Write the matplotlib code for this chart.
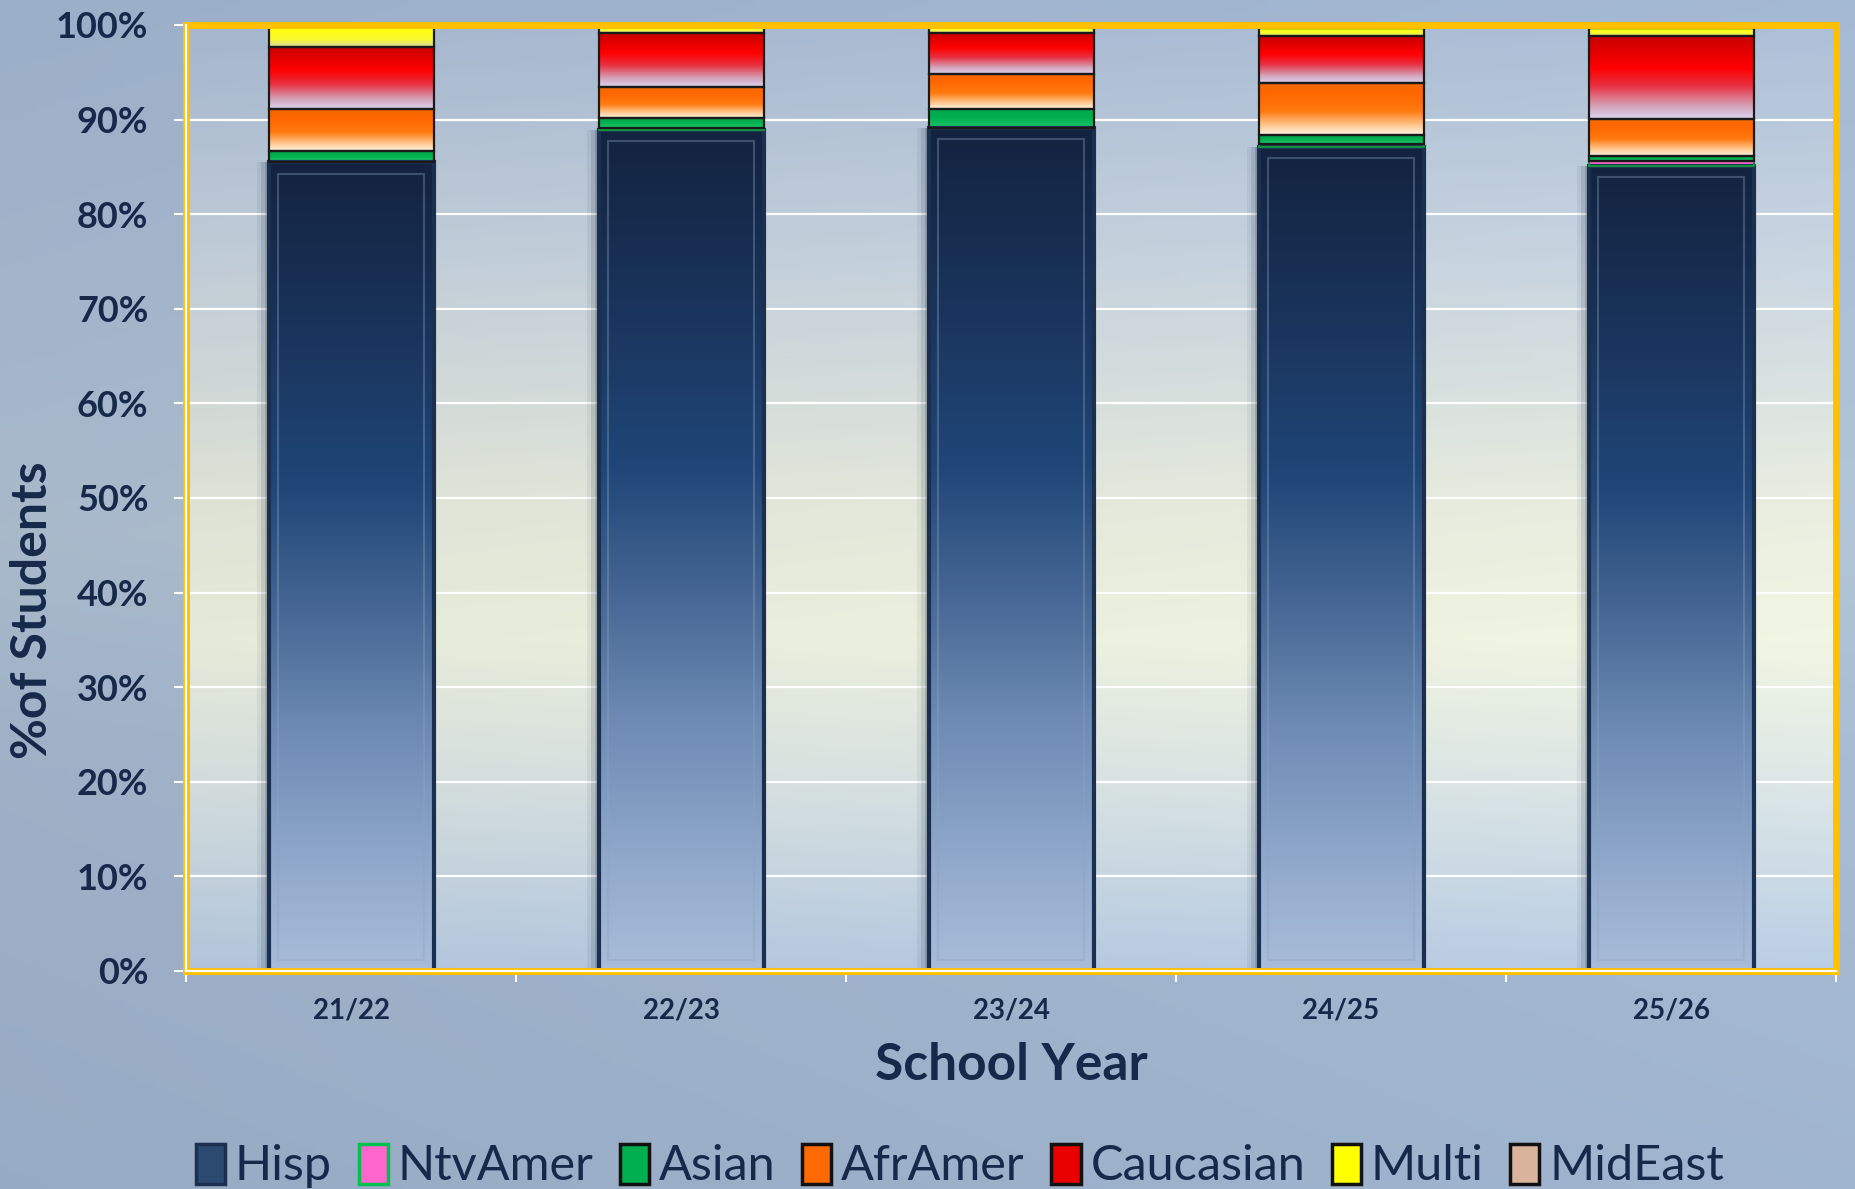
import numpy as np
import matplotlib
matplotlib.use("Agg")
import matplotlib.pyplot as plt
from matplotlib.patches import Patch, Rectangle
from matplotlib.colors import to_rgb

# ---------------- data ----------------
years = ['21/22', '22/23', '23/24', '24/25', '25/26']
hisp = [85.5, 88.9, 89.1, 87.1, 85.1]
ntvamer = [0.0, 0.2, 0.0, 0.3, 0.5]
asian = [1.2, 1.1, 2.05, 1.0, 0.5]
aframer = [4.4, 3.2, 3.65, 5.5, 4.0]
caucasian = [6.6, 5.8, 4.4, 4.95, 8.75]
multi = [2.3, 0.8, 0.8, 0.8, 0.8]
mideast = [0.0, 0.0, 0.0, 0.35, 0.35]
series_names = ['Hisp', 'NtvAmer', 'Asian', 'AfrAmer', 'Caucasian', 'Multi', 'MidEast']
yticks = [0, 10, 20, 30, 40, 50, 60, 70, 80, 90, 100]

TXT = '#16294a'
plt.rcParams['font.family'] = ['Lato', 'DejaVu Sans']

W, H = 1856, 1189
fig = plt.figure(figsize=(W / 100, H / 100), dpi=100)


def interp_stops(stops, n=256):
    t = np.linspace(0, 1, n)
    pos = [s[0] for s in stops]
    cols = np.array([to_rgb(s[1]) for s in stops])
    out = np.zeros((n, 3))
    for k in range(3):
        out[:, k] = np.interp(t, pos, cols[:, k])
    return out


# figure background
bg = fig.add_axes([0, 0, 1, 1], zorder=-10)
bg.axis('off')
vy = interp_stops([(0, '#9cb0ca'), (0.35, '#a3b6cd'), (0.55, '#aebfd1'), (0.8, '#a6b9d0'), (1, '#a0b4ce')], 200)
hx = np.linspace(0, 1, 300)
img = vy[:, None, :] * (0.97 + 0.06 * hx[None, :, None])
bg.imshow(np.clip(img, 0, 1), extent=[0, 1, 0, 1], origin='lower', aspect='auto')
bg.set_xlim(0, 1); bg.set_ylim(0, 1)

ax = fig.add_axes([186 / W, 1 - 971 / H, (1836 - 186) / W, (971 - 25) / H])
ax.set_facecolor('none')

# plot area background gradient
pa = interp_stops([(0, '#b6cae1'), (0.2, '#d9e3e2'), (0.35, '#edf1df'), (0.5, '#e4e9dc'),
                   (0.75, '#c6d2dd'), (1, '#aabcd4')], 300)
hx2 = np.linspace(0, 1, 300)
pimg = pa[:, None, :] * (0.97 + 0.05 * hx2[None, :, None])
ax.imshow(np.clip(pimg, 0, 1), extent=[0, 1, 0, 1], transform=ax.transAxes,
          origin='lower', aspect='auto', zorder=0)

x = np.arange(len(years))
bw = 0.5

gradients = {
    'Hisp': [(0, '#a9bdd9'), (0.1, '#97aecf'), (0.3, '#6c8ab3'), (0.48, '#3d5f8d'),
             (0.6, '#1f4677'), (0.8, '#19335a'), (1, '#13233f')],
    'NtvAmer': [(0, '#ff80d4'), (1, '#ff55c8')],
    'Asian': [(0, '#22c46a'), (0.5, '#00b050'), (1, '#00a84c')],
    'AfrAmer': [(0, '#fff6e6'), (0.18, '#ffc890'), (0.45, '#ff7a10'), (0.8, '#ff6600'), (1, '#f26a00')],
    'Caucasian': [(0, '#dcd4f0'), (0.15, '#d4a6bc'), (0.4, '#e83040'), (0.62, '#ff0000'), (1, '#c80000')],
    'Multi': [(0, '#d4dca0'), (0.35, '#fafa30'), (1, '#ffff00')],
    'MidEast': [(0, '#f8e8dc'), (1, '#e2bfa6')],
}
edges = {'Hisp': '#1b3050', 'NtvAmer': '#109040', 'Asian': '#1a1a1a', 'AfrAmer': '#1a1a1a',
         'Caucasian': '#1a1a1a', 'Multi': '#1a1a1a', 'MidEast': '#1a1a1a'}
legend_colors = {'Hisp': '#2c4a70', 'NtvAmer': '#ff66cc', 'Asian': '#00b050', 'AfrAmer': '#ff6a00',
                 'Caucasian': '#e80000', 'Multi': '#ffff00', 'MidEast': '#d9b39c'}
legend_edges = {'Hisp': '#1b3050', 'NtvAmer': '#00c050', 'Asian': '#111111', 'AfrAmer': '#111111',
                'Caucasian': '#111111', 'Multi': '#111111', 'MidEast': '#111111'}

data = [hisp, ntvamer, asian, aframer, caucasian, multi, mideast]
bottom = np.zeros(len(years))
for name, vals in zip(series_names, data):
    vals = np.array(vals, dtype=float)
    lw = 3.0 if name == 'Hisp' else 1.6
    bars = ax.bar(x, vals, bw, bottom=bottom, facecolor='none', edgecolor=edges[name],
                  linewidth=lw, zorder=4)
    grad = interp_stops(gradients[name])
    for r in bars.patches:
        bx, by, bwid, bh = r.get_x(), r.get_y(), r.get_width(), r.get_height()
        if bh <= 0:
            r.set_visible(False)
            continue
        if name == 'Hisp':
            # soft shadow
            for k, a in enumerate([0.16, 0.10, 0.06]):
                d = 0.012 * (k + 1)
                ax.add_patch(Rectangle((bx - d, by), bwid + d * 0.6, bh, facecolor='#0e1d36',
                                       edgecolor='none', alpha=a, zorder=2))
        ax.imshow(grad[:, None, :], extent=[bx, bx + bwid, by, by + bh], origin='lower',
                  aspect='auto', interpolation='bilinear', zorder=3)
        if name == 'Hisp':
            ins = 0.03
            ax.add_patch(Rectangle((bx + ins, by + 1.2), bwid - 2 * ins, bh - 2.4,
                                   facecolor='none', edgecolor='#8ea3c2', linewidth=1.5,
                                   alpha=0.35, zorder=3.5))
    bottom += vals

ax.set_xlim(-0.5, len(years) - 0.5)
ax.set_ylim(0, 100)

# grid
for v in yticks[1:]:
    ax.axhline(v, color='white', linewidth=1.6, zorder=1)

ax.set_yticks(yticks)
ax.set_yticklabels([f'{v}%' for v in yticks], fontsize=26, fontweight='bold', color=TXT)
ax.set_xticks(x)
ax.set_xticklabels(years, fontsize=20, fontweight='bold', color=TXT)
ax.set_xticks(np.arange(-0.5, len(years), 1.0), minor=True)
ax.tick_params(axis='y', which='major', color='white', length=9, width=1.5, pad=18)
ax.tick_params(axis='x', which='major', length=0, pad=19)
ax.tick_params(axis='x', which='minor', color='white', length=8, width=1.5)

for s in ax.spines.values():
    s.set_color('#ffc000')
    s.set_linewidth(5)
    s.set_zorder(5)
ax.plot([0, 0], [0, 1], transform=ax.transAxes, color='white', lw=1.6, zorder=6, clip_on=False)
ax.plot([0, 1], [0, 0], transform=ax.transAxes, color='white', lw=1.6, zorder=6, clip_on=False)

fig.text(1011 / W, 1 - 1066 / H, 'School Year', ha='center', va='center', fontsize=37,
         fontweight='bold', color=TXT)
fig.text(33 / W, 1 - 610 / H, '%of Students', ha='center', va='center', rotation=90,
         fontsize=36, fontweight='bold', color=TXT)

handles = [Patch(facecolor=legend_colors[n], edgecolor=legend_edges[n], linewidth=2.5, label=n)
           for n in series_names]
fig.legend(handles=handles, loc='center', bbox_to_anchor=(960 / W, 1 - 1166 / H), ncol=7,
           frameon=False, fontsize=35, handlelength=0.6, handleheight=0.9, handletextpad=0.2,
           columnspacing=0.55, labelcolor=TXT, borderpad=0)

fig.savefig('out.png', dpi=100)
